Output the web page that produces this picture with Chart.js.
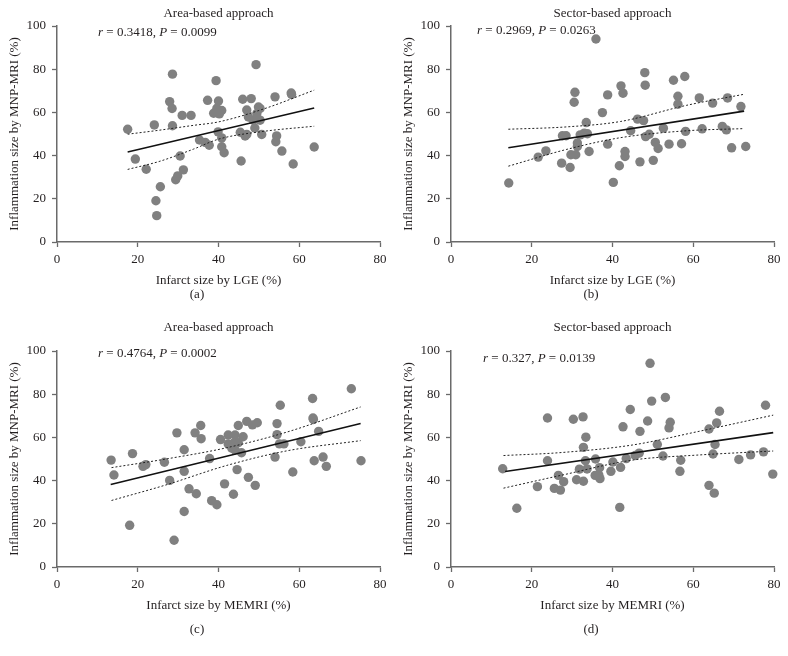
<!DOCTYPE html>
<html>
<head>
<meta charset="utf-8">
<title>Inflammation size vs infarct size</title>
<script src="https://cdn.jsdelivr.net/npm/chart.js@4/dist/chart.umd.min.js"></script>
<style>
  body { margin: 0; background: #fff; }
  #wrap { position: relative; width: 788px; height: 656px; overflow: hidden; }
  canvas { position: absolute; }
</style>
</head>
<body>
<div id="wrap">
  <canvas id="chartA" width="394" height="331" style="left:0;top:-7px"></canvas>
  <canvas id="chartB" width="394" height="331" style="left:394px;top:-7px"></canvas>
  <canvas id="chartC" width="394" height="331" style="left:0;top:318px"></canvas>
  <canvas id="chartD" width="394" height="331" style="left:394px;top:318px"></canvas>
</div>
<script>
// (a) area-based, LGE: [infarct %, inflammation %]
const areaLgePoints = [
  [17.5, 52.2], [19.4, 38.4], [22.1, 33.7], [24.1, 54.2], [24.5, 19.1], [24.7, 12.2],
  [25.6, 25.6], [28.6, 77.7], [27.9, 65.0], [28.5, 61.8], [28.6, 53.8], [29.4, 28.8],
  [29.9, 30.6], [30.5, 39.8], [31.0, 58.6], [31.3, 33.4], [33.2, 58.6], [35.3, 47.2],
  [36.7, 46.1], [37.3, 65.6], [37.7, 44.8], [38.8, 59.6], [39.4, 74.7], [39.6, 61.9],
  [40.0, 65.3], [40.2, 59.3], [40.8, 60.9], [39.9, 51.0], [40.8, 48.2], [40.8, 44.1],
  [41.4, 41.3], [45.4, 50.8], [45.6, 37.5], [46.0, 66.1], [46.6, 49.1], [47.0, 49.8],
  [47.0, 61.1], [47.4, 57.9], [48.1, 66.4], [48.6, 56.4], [49.0, 52.8], [49.3, 82.1],
  [49.5, 59.5], [49.9, 62.5], [50.3, 61.8], [50.3, 56.4], [50.7, 49.8], [54.0, 67.2],
  [54.4, 49.1], [54.2, 46.4], [55.7, 42.1], [58.0, 69.0], [58.1, 68.3], [58.5, 36.1],
  [63.7, 44.0]
];
const areaLgeFit = [[17.5, 41.7], [63.7, 62.0]];
const areaLgeUpper = [[17.5, 49.9], [25.5, 51.8], [33.8, 54.0], [40, 55.6], [51.5, 61.8], [63.7, 70.3]];
const areaLgeLower = [[17.5, 33.6], [25.5, 37.4], [33.8, 43.0], [40, 47.6], [51.5, 51.3], [63.7, 53.6]];

// (b) sector-based, LGE
const sectorLgePoints = [
  [14.3, 27.3], [21.6, 39.3], [23.5, 42.2], [27.4, 36.5], [27.6, 49.2], [28.5, 49.2],
  [29.5, 34.5], [29.7, 40.4], [30.7, 69.3], [30.5, 64.7], [30.9, 40.4], [31.3, 45.8],
  [31.3, 44.2], [32.0, 49.6], [33.0, 50.4], [33.5, 55.3], [33.8, 50.1], [34.2, 41.9],
  [35.9, 94.0], [37.5, 59.9], [38.8, 68.1], [38.8, 45.3], [40.2, 27.6], [41.7, 35.3],
  [42.1, 72.3], [42.6, 68.9], [43.1, 41.9], [43.1, 39.6], [44.5, 51.5], [46.2, 56.9],
  [46.8, 37.1], [47.7, 56.2], [48.0, 78.4], [48.1, 72.6], [48.2, 48.8], [49.1, 49.9],
  [50.1, 37.8], [50.6, 46.1], [51.3, 43.3], [52.6, 52.7], [54.0, 45.3], [55.1, 74.9],
  [56.2, 67.5], [56.2, 63.8], [57.1, 45.5], [57.9, 76.6], [58.1, 51.2], [61.5, 66.7],
  [62.2, 52.4], [64.8, 64.3], [67.2, 53.5], [68.2, 51.9], [68.5, 66.7], [69.5, 43.6],
  [71.8, 62.7], [73.0, 44.2]
];
const sectorLgeFit = [[14.2, 43.6], [72.6, 60.6]];
const sectorLgeUpper = [[14.2, 52.2], [28.7, 53.3], [42, 55.8], [58.4, 63.3], [72.6, 68.4]];
const sectorLgeLower = [[14.2, 35.1], [28.7, 42.9], [42, 48.3], [58.4, 51.5], [72.6, 52.5]];

// (c) area-based, MEMRI
const areaMemriPoints = [
  [13.4, 49.5], [14.1, 42.6], [18.0, 19.3], [18.7, 52.5], [21.3, 46.6], [22.0, 47.4],
  [26.6, 48.5], [27.9, 40.1], [29.0, 12.4], [29.7, 62.1], [31.5, 54.3], [31.5, 44.3],
  [31.5, 25.7], [32.7, 36.2], [34.2, 62.1], [34.5, 33.9], [35.6, 65.5], [35.7, 59.4],
  [37.8, 50.2], [38.3, 30.7], [39.6, 28.8], [40.5, 59.0], [41.5, 38.5], [42.4, 61.1],
  [44.1, 61.1], [46.1, 60.3], [42.4, 57.0], [43.7, 57.3], [44.9, 57.5], [43.3, 55.0],
  [44.1, 54.2], [45.7, 52.9], [43.7, 33.7], [44.9, 65.5], [44.6, 45.1], [47.0, 67.4],
  [47.4, 41.5], [48.4, 65.8], [49.1, 37.8], [49.6, 66.8], [54.0, 50.9], [54.5, 61.3],
  [54.5, 66.4], [55.3, 74.9], [55.1, 57.0], [56.2, 57.0], [58.4, 44.0], [60.4, 58.0],
  [63.3, 78.0], [63.4, 69.0], [63.5, 68.3], [63.7, 49.2], [64.8, 62.8], [65.9, 50.9],
  [66.7, 46.6], [72.9, 82.5], [75.3, 49.2]
];
const areaMemriFit = [[13.3, 38.2], [75.2, 66.4]];
const areaMemriUpper = [[13.5, 46.0], [27, 50.0], [42, 55.2], [57, 62.5], [75.2, 74.1]];
const areaMemriLower = [[13.5, 30.8], [27, 38.0], [42, 47.0], [57, 53.8], [75.2, 58.5]];

// (d) sector-based, MEMRI
const sectorMemriPoints = [
  [12.8, 45.5], [16.3, 27.2], [21.4, 37.2], [23.9, 69.0], [23.9, 49.2], [25.6, 36.4],
  [26.6, 42.4], [27.1, 35.6], [27.9, 39.5], [30.3, 68.4], [31.1, 40.4], [31.8, 45.3],
  [32.7, 69.5], [32.8, 55.4], [32.8, 39.7], [33.4, 60.1], [33.3, 49.2], [33.7, 45.4],
  [35.8, 50.0], [35.7, 42.4], [36.6, 42.7], [36.8, 46.0], [36.9, 40.9], [39.6, 44.3],
  [40.1, 48.6], [41.8, 27.6], [42.0, 46.1], [42.6, 64.9], [43.4, 50.2], [44.4, 72.9],
  [45.6, 51.6], [46.6, 52.7], [46.8, 62.8], [48.7, 67.6], [49.3, 94.3], [49.7, 76.8],
  [51.1, 56.7], [52.5, 51.4], [53.1, 78.5], [54.0, 64.4], [54.3, 67.0], [56.9, 49.4],
  [56.7, 44.3], [63.9, 63.9], [63.9, 37.8], [64.9, 52.3], [65.2, 34.2], [65.4, 56.7],
  [65.8, 66.7], [66.5, 72.1], [71.3, 49.8], [74.2, 51.9], [77.4, 53.3], [77.9, 74.9],
  [79.7, 43.0]
];
const sectorMemriFit = [[13.4, 44.2], [79.8, 62.2]];
const sectorMemriUpper = [[13.0, 51.6], [27.4, 53.0], [45, 56.5], [60.9, 62.6], [79.8, 70.3]];
const sectorMemriLower = [[13.0, 36.5], [27.4, 42.5], [45, 49.5], [60.9, 51.8], [79.8, 53.7]];

const FONT = '"Liberation Serif", "Times New Roman", serif';
const TEXT_COLOR = '#231f20';
const AXIS_COLOR = '#6a6a6a';

const panels = [
  { id: 'chartA', title: 'Area-based approach', xLabel: 'Infarct size by LGE (%)', letter: '(a)',
    r: '0.3418', p: '0.0099', points: areaLgePoints, fit: areaLgeFit, upper: areaLgeUpper, lower: areaLgeLower,
    titleY: 24, statX: 98, statY: 43, letterY: 302 },
  { id: 'chartB', title: 'Sector-based approach', xLabel: 'Infarct size by LGE (%)', letter: '(b)',
    r: '0.2969', p: '0.0263', points: sectorLgePoints, fit: sectorLgeFit, upper: sectorLgeUpper, lower: sectorLgeLower,
    titleY: 24, statX: 83, statY: 41, letterY: 302 },
  { id: 'chartC', title: 'Area-based approach', xLabel: 'Infarct size by MEMRI (%)', letter: '(c)',
    r: '0.4764', p: '0.0002', points: areaMemriPoints, fit: areaMemriFit, upper: areaMemriUpper, lower: areaMemriLower,
    titleY: 13, statX: 98, statY: 39, letterY: 312 },
  { id: 'chartD', title: 'Sector-based approach', xLabel: 'Infarct size by MEMRI (%)', letter: '(d)',
    r: '0.327', p: '0.0139', points: sectorMemriPoints, fit: sectorMemriFit, upper: sectorMemriUpper, lower: sectorMemriLower,
    titleY: 13, statX: 89, statY: 44, letterY: 312 }
];

// draws panel title, r/P note (italic letters) and the (a)-(d) caption
const panelText = {
  id: 'panelText',
  afterDraw(chart, args, opts) {
    const ctx = chart.ctx;
    const area = chart.chartArea;
    ctx.save();
    ctx.fillStyle = TEXT_COLOR;
    ctx.font = '13px ' + FONT;
    ctx.textAlign = 'center';
    ctx.textBaseline = 'alphabetic';
    ctx.fillText(opts.title, (area.left + area.right) / 2, opts.titleY);
    ctx.textBaseline = 'middle';
    ctx.fillText(opts.letter, chart.width / 2, opts.letterY);

    ctx.textAlign = 'left';
    ctx.textBaseline = 'alphabetic';
    const parts = [['r', true], [' = ' + opts.r + ', ', false], ['P', true], [' = ' + opts.p, false]];
    let x = opts.statX;
    for (const [txt, italic] of parts) {
      ctx.font = (italic ? 'italic ' : '') + '13px ' + FONT;
      ctx.fillText(txt, x, opts.statY);
      x += ctx.measureText(txt).width;
    }
    ctx.restore();
  }
};

const toXY = pairs => pairs.map(([x, y]) => ({ x, y }));

function axisOptions(min, max, titleText, isX) {
  return {
    type: 'linear',
    min: min,
    max: max,
    ticks: { stepSize: 20, color: TEXT_COLOR, font: { family: FONT, size: 13 }, padding: isX ? 5 : 6 },
    grid: { drawOnChartArea: false, drawTicks: true, tickLength: 5, color: AXIS_COLOR, tickWidth: 1.3 },
    border: { display: true, color: AXIS_COLOR, width: 1.5 },
    title: {
      display: true,
      text: titleText,
      color: TEXT_COLOR,
      font: { family: FONT, size: 13, lineHeight: 1.2 },
      padding: isX ? { top: 0, bottom: 36 } : { top: 7, bottom: 0 }
    },
    afterFit(scale) {
      // pin the plot area so all four panels line up
      if (isX) scale.height = 82;
      else scale.width = 57;
    }
  };
}

for (const p of panels) {
  new Chart(document.getElementById(p.id), {
    type: 'scatter',
    data: {
      datasets: [
        { data: toXY(p.fit), showLine: true, borderColor: '#111', borderWidth: 1.6, pointRadius: 0 },
        { data: toXY(p.upper), showLine: true, borderColor: '#222', borderWidth: 1, borderDash: [2, 2],
          pointRadius: 0, cubicInterpolationMode: 'monotone' },
        { data: toXY(p.lower), showLine: true, borderColor: '#222', borderWidth: 1, borderDash: [2, 2],
          pointRadius: 0, cubicInterpolationMode: 'monotone' },
        { data: toXY(p.points), pointRadius: 4.7, backgroundColor: '#808080', borderColor: '#808080',
          pointBorderWidth: 0, clip: false }
      ]
    },
    options: {
      responsive: false,
      animation: false,
      events: [],
      layout: { padding: { top: 33, right: 14, left: 0, bottom: 0 } },
      plugins: {
        legend: { display: false },
        tooltip: { enabled: false },
        panelText: { title: p.title, letter: p.letter, r: p.r, p: p.p,
                     titleY: p.titleY, statX: p.statX, statY: p.statY, letterY: p.letterY }
      },
      scales: {
        x: axisOptions(0, 80, p.xLabel, true),
        y: axisOptions(0, 100, 'Inflammation size by MNP-MRI (%)', false)
      }
    },
    plugins: [panelText]
  });
}
</script>
</body>
</html>
